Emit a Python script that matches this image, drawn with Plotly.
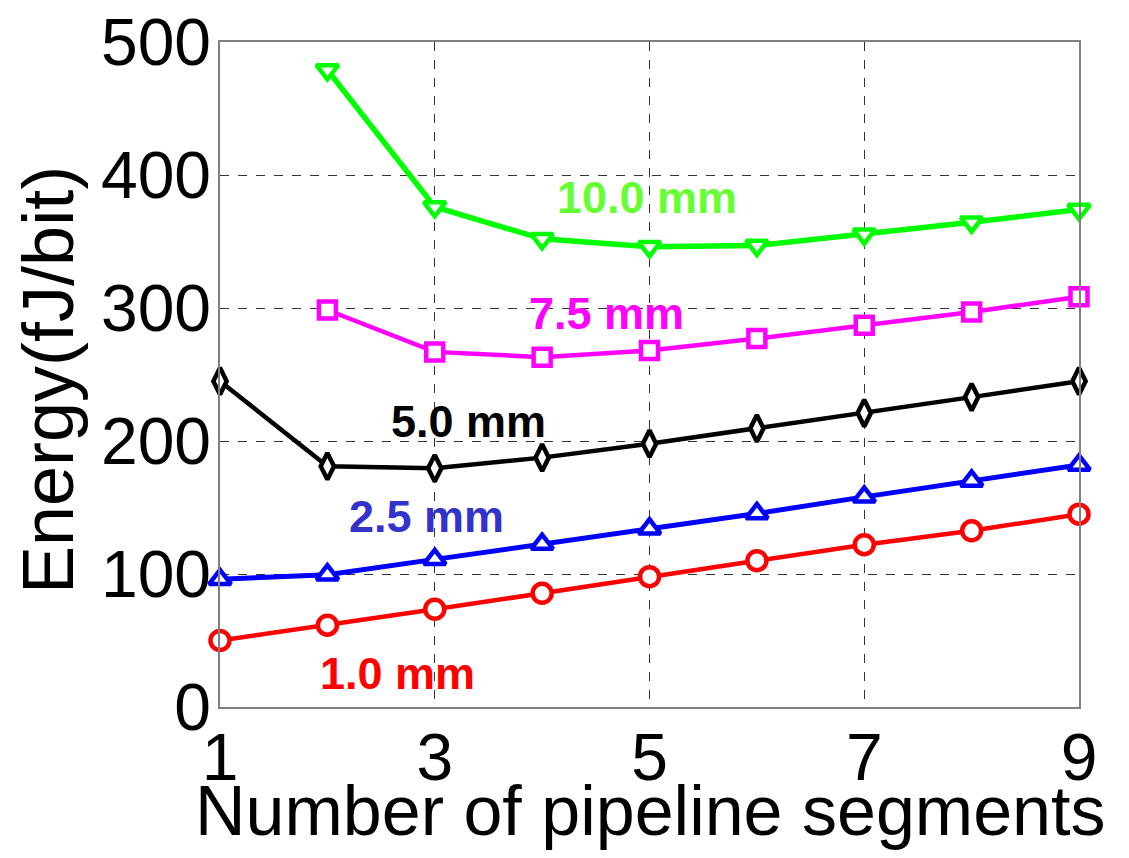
import plotly.graph_objects as go

segments = [1, 2, 3, 4, 5, 6, 7, 8, 9]
e_1_0 = [50, 61.5, 73.5, 85.5, 98, 110, 122, 132.5, 145]
e_2_5 = [96, 99.5, 111, 122.5, 134, 145.5, 158, 170, 182]
e_5_0 = [245, 181, 179.5, 187.5, 198, 209.5, 221, 233, 245]
e_7_5 = [None, 298.5, 267, 263, 268, 277, 287, 297, 308.5]
e_10_0 = [None, 479, 376, 352, 346, 347, 355.5, 364.5, 374]

labels = ["1.0 mm", "2.5 mm", "5.0 mm", "7.5 mm", "10.0 mm"]
label_x = [2.65, 2.92, 3.31, 4.60, 4.98]
label_y = [25, 143, 215, 296, 383]

x_title = "Number of pipeline segments"
y_title = "Energy(fJ/bit)"

series = [
    (e_1_0, "#ff0000", "circle", 4.5, 19),
    (e_2_5, "#0000ff", "triangle-up", 5, 19),
    (e_5_0, "#000000", "diamond-tall", 4.5, 19),
    (e_7_5, "#ff00ff", "square", 4.5, 17),
    (e_10_0, "#00ff00", "triangle-down", 5.5, 19),
]
label_colors = ["#ff0000", "#3333cc", "#000000", "#ff00ff", "#66ff33"]

fig = go.Figure()
for (vals, col, sym, w, sz), name in zip(series, labels):
    fig.add_trace(go.Scatter(
        x=segments, y=vals, mode="lines+markers", name=name,
        line=dict(color=col, width=w),
        marker=dict(symbol=sym, size=sz, color="white",
                    line=dict(color=col, width=4.5)),
        connectgaps=False, cliponaxis=False,
    ))

for t, xx, yy, c in zip(labels, label_x, label_y, label_colors):
    fig.add_annotation(x=xx, y=yy, text="<b>%s</b>" % t, showarrow=False,
                       font=dict(family="Liberation Sans, Arial", size=45, color=c))

fig.add_annotation(xref="paper", yref="paper", x=0.5, y=-0.095, xanchor="center",
                   yanchor="top", text=x_title, showarrow=False,
                   font=dict(family="Liberation Sans, Arial", size=70, color="black"))
fig.add_annotation(xref="paper", yref="paper", x=-0.200, y=0.492, xanchor="center",
                   yanchor="middle", text=y_title, showarrow=False, textangle=-90,
                   font=dict(family="Liberation Sans, Arial", size=72, color="black"))

# the page body adds an 8px offset, so margins are shifted to compensate
fig.update_layout(
    width=1129, height=858,
    margin=dict(l=212, r=58, t=34, b=159),
    paper_bgcolor="white", plot_bgcolor="white",
    showlegend=False,
    font=dict(family="Liberation Sans, Arial", color="black"),
)
fig.update_xaxes(
    range=[1, 9], tickvals=[1, 3, 5, 7, 9], ticktext=["1", "3", "5", "7", "9"],
    showgrid=True, gridcolor="#333333", griddash="dash", gridwidth=1,
    showline=True, linecolor="#808080", linewidth=1.5, mirror=True,
    ticks="", tickfont=dict(size=66), ticklabelstandoff=-8,
    ticklabeloverflow="allow",
    automargin=False, zeroline=False,
)
fig.update_yaxes(
    range=[0, 500], tickvals=[0, 100, 200, 300, 400, 500],
    showgrid=True, gridcolor="#333333", griddash="dash", gridwidth=1,
    showline=True, linecolor="#808080", linewidth=1.5, mirror=True,
    ticks="", tickfont=dict(size=66), ticklabelstandoff=-6,
    ticklabeloverflow="allow",
    automargin=False, zeroline=False,
)
fig.write_html("out.html")
